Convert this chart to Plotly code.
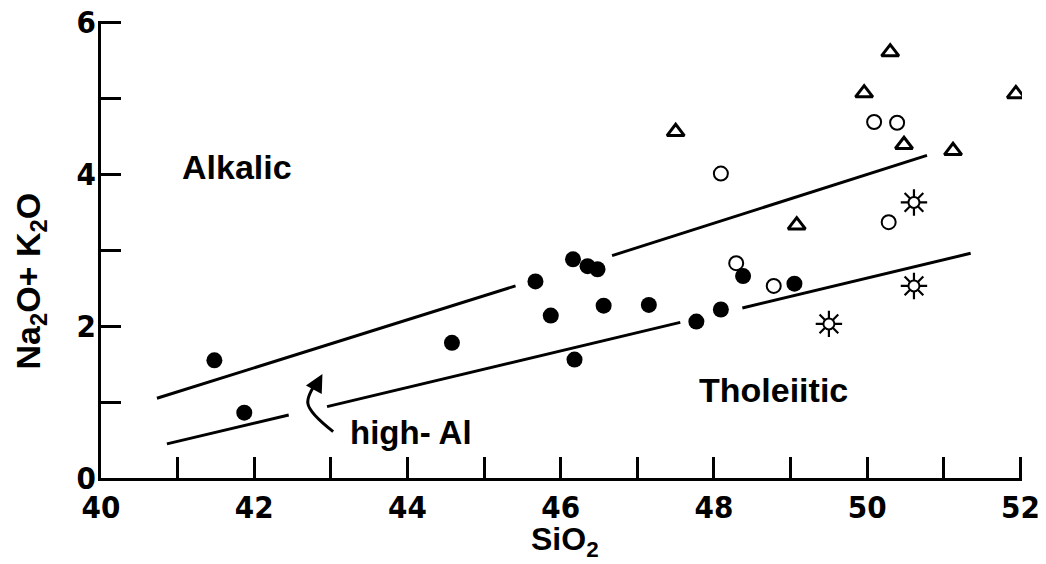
import plotly.graph_objects as go

# ---- data ----
filled_x = [41.48, 41.87, 44.58, 45.67, 46.16, 46.35, 46.48, 45.87, 46.56, 47.15, 46.18, 47.77, 48.09, 48.38, 49.05]
filled_y = [1.55, 0.86, 1.78, 2.59, 2.88, 2.79, 2.75, 2.14, 2.27, 2.28, 1.56, 2.06, 2.22, 2.66, 2.56]

open_x = [48.09, 50.09, 50.39, 50.28, 48.29, 48.78]
open_y = [4.01, 4.69, 4.68, 3.37, 2.83, 2.53]

tri_x = [47.50, 49.96, 50.30, 51.94, 50.48, 51.12, 49.08]
tri_y = [4.56, 5.07, 5.61, 5.06, 4.39, 4.31, 3.33]

sun_x = [50.61, 50.61, 49.50]
sun_y = [3.63, 2.53, 2.03]

# alkalic / tholeiitic divider (with gaps)
upper_x = [40.73, 45.41, None, 46.67, 50.78]
upper_y = [1.05, 2.53, None, 2.93, 4.25]
# high-Al boundary (with gaps)
lower_x = [40.86, 42.45, None, 42.95, 47.56, None, 48.37, 51.35]
lower_y = [0.45, 0.83, None, 0.94, 2.05, None, 2.24, 2.96]

# curved arrow body
arrow_x = [43.03, 42.70, 42.84]
arrow_y = [0.61, 0.98, 1.30]

x_ticks = [40, 42, 44, 46, 48, 50, 52]
y_ticks = [0, 2, 4, 6]

FONT = "Liberation Sans, Arial, sans-serif"
TICKFONT = "Liberation Sans Narrow, DejaVu Sans Condensed, Liberation Sans, sans-serif"

fig = go.Figure()

fig.add_trace(go.Scatter(x=upper_x, y=upper_y, mode="lines",
                         line=dict(color="black", width=3), hoverinfo="skip", showlegend=False))
fig.add_trace(go.Scatter(x=lower_x, y=lower_y, mode="lines",
                         line=dict(color="black", width=3), hoverinfo="skip", showlegend=False))
fig.add_trace(go.Scatter(x=arrow_x, y=arrow_y, mode="lines",
                         line=dict(color="black", width=3, shape="spline"),
                         hoverinfo="skip", showlegend=False))

fig.add_trace(go.Scatter(x=filled_x, y=filled_y, mode="markers",
                         marker=dict(symbol="circle", size=16, color="black"), showlegend=False))
fig.add_trace(go.Scatter(x=open_x, y=open_y, mode="markers",
                         marker=dict(symbol="circle-open", size=14, color="black",
                                     line=dict(width=2)), showlegend=False))
fig.add_trace(go.Scatter(x=tri_x, y=tri_y, mode="markers",
                         marker=dict(symbol="triangle-up-open", size=15, color="black",
                                     line=dict(width=3)), showlegend=False))
fig.add_trace(go.Scatter(x=sun_x, y=sun_y, mode="markers",
                         marker=dict(symbol="asterisk-open", size=22, color="black",
                                     line=dict(width=2.2, color="black")), showlegend=False))
fig.add_trace(go.Scatter(x=sun_x, y=sun_y, mode="markers",
                         marker=dict(symbol="circle", size=11, color="white",
                                     line=dict(width=2, color="black")), showlegend=False))

annotations = [
    dict(x=42.89, y=1.37, ax=42.82, ay=1.24, xref="x", yref="y", axref="x", ayref="y",
         showarrow=True, arrowhead=2, arrowsize=1.2, arrowwidth=3, arrowcolor="black", text=""),
    dict(x=41.78, y=4.1, xref="x", yref="y", text="<b>Alkalic</b>", showarrow=False,
         font=dict(family=FONT, size=34, color="black")),
    dict(x=48.78, y=1.16, xref="x", yref="y", text="<b>Tholeiitic</b>", showarrow=False,
         font=dict(family=FONT, size=34, color="black")),
    dict(x=44.05, y=0.60, xref="x", yref="y", text="<b>high- Al</b>", showarrow=False,
         font=dict(family=FONT, size=33, color="black")),
    dict(x=0.5035, y=-0.14, xref="paper", yref="paper", xanchor="center", yanchor="middle",
         text="<b>SiO<sub>2</sub></b>",
         showarrow=False, font=dict(family=FONT, size=32, color="black")),
    dict(x=-0.077, y=0.43, xref="paper", yref="paper", xanchor="center", yanchor="middle",
         text="<b>Na<sub>2</sub>O+ K<sub>2</sub>O</b>",
         showarrow=False, textangle=-90, font=dict(family=FONT, size=34, color="black")),
]

# page body has an 8px margin; figure sized/margined to compensate
fig.update_layout(
    width=1038, height=556,
    margin=dict(l=93, r=23.5, t=12.5, b=86),
    paper_bgcolor="white", plot_bgcolor="white",
    showlegend=False,
    annotations=annotations,
    font=dict(family=FONT, color="black"),
)

fig.update_xaxes(range=[40, 52.02], tickvals=x_ticks, ticktext=[f"<b>{v}</b>" for v in x_ticks],
                 automargin=False, ticklabeloverflow="allow",
                 showgrid=False, zeroline=False, showline=True, linecolor="black", linewidth=3,
                 ticks="inside", ticklen=21, tickwidth=3, tickcolor="black",
                 minor=dict(ticks="inside", dtick=1, ticklen=21, tickwidth=3, tickcolor="black"),
                 tickfont=dict(family=TICKFONT, size=31, color="black"), ticklabelstandoff=0)
fig.update_yaxes(range=[0, 6.02], tickvals=y_ticks, ticktext=[f"<b>{v}</b>" for v in y_ticks],
                 automargin=False, ticklabeloverflow="allow",
                 showgrid=False, zeroline=False, showline=True, linecolor="black", linewidth=3,
                 ticks="inside", ticklen=20, tickwidth=3, tickcolor="black",
                 minor=dict(ticks="inside", dtick=1, ticklen=20, tickwidth=3, tickcolor="black"),
                 tickfont=dict(family=TICKFONT, size=31, color="black"), ticklabelstandoff=-4)

fig.write_html("out.html")
